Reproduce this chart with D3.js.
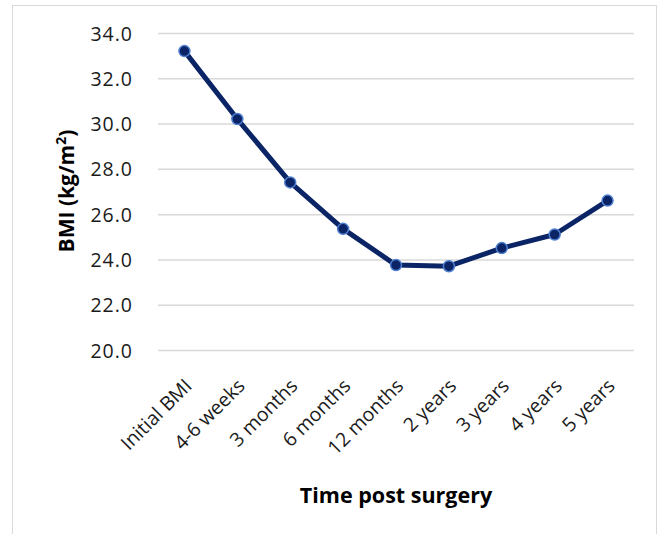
<!DOCTYPE html>
<html><head><meta charset="utf-8">
<script src="https://cdn.jsdelivr.net/npm/d3@7"></script>
<style>body{margin:0;background:#fff}svg{display:block}</style>
</head><body>
<script>
const categories = ["Initial BMI","4-6 weeks","3 months","6 months","12 months","2 years","3 years","4 years","5 years"];
const bmiValues = [33.2, 30.2, 27.4, 25.35, 23.75, 23.7, 24.5, 25.1, 26.6];
const yTicks = [20, 22, 24, 26, 28, 30, 32, 34];

(function(){
const W = 667, H = 534;
const font = "'Open Sans', sans-serif";
const svg = d3.select("body").append("svg").attr("width", W).attr("height", H);

svg.append("rect").attr("x", 12.5).attr("y", 5.5).attr("width", 644).attr("height", 540)
  .attr("fill", "#fff").attr("stroke", "#d9d9d9");

const pL = 158, pR = 634, pT = 33, pB = 350;
const x = d3.scalePoint().domain(categories).range([pL, pR]).padding(0.5);
const y = d3.scaleLinear().domain([20, 34]).range([pB, pT]);

const yAxis = svg.append("g").attr("transform", `translate(${pL},0)`)
  .call(d3.axisLeft(y).tickValues(yTicks).tickFormat(d3.format(".1f")).tickSize(-(pR-pL)).tickPadding(25));
yAxis.select(".domain").remove();
yAxis.selectAll(".tick line").attr("stroke", "#d9d9d9").attr("stroke-width", 1.5);
yAxis.selectAll(".tick text").attr("font-family", font).attr("font-size", 19.5)
  .attr("letter-spacing", 1).attr("fill", "#1a1a1a").attr("dy", "0.36em");

const xAxis = svg.append("g").attr("transform", `translate(0,${pB})`)
  .call(d3.axisBottom(x).tickSize(0));
xAxis.select(".domain").remove();
xAxis.selectAll(".tick text")
  .attr("font-family", font).attr("font-size", 19.5).attr("fill", "#1a1a1a")
  .attr("text-anchor", "end").attr("dy", 0)
  .attr("transform", "translate(6,35) rotate(-45)");

const line = d3.line().x((d, i) => x(categories[i])).y(d => y(d));
svg.append("path").datum(bmiValues).attr("d", line)
  .attr("fill", "none").attr("stroke", "#0b2466").attr("stroke-width", 5)
  .attr("stroke-linejoin", "round");

svg.selectAll("circle.pt").data(bmiValues).join("circle").attr("class", "pt")
  .attr("cx", (d, i) => x(categories[i])).attr("cy", d => y(d)).attr("r", 5.5)
  .attr("fill", "#0b2466").attr("stroke", "#4f7fd1").attr("stroke-width", 1.5);

svg.append("text").attr("transform", "translate(74,191) rotate(-90)")
  .attr("text-anchor", "middle").attr("font-family", font).attr("font-weight", "bold")
  .attr("font-size", 21).attr("fill", "#000")
  .html('BMI (kg/m<tspan dy="-8" font-size="14">2</tspan><tspan dy="8">)</tspan>');

svg.append("text").attr("x", 396).attr("y", 503).attr("text-anchor", "middle")
  .attr("font-family", font).attr("font-weight", "bold").attr("font-size", 21.5).attr("fill", "#000")
  .text("Time post surgery");
})();
</script>
</body></html>
